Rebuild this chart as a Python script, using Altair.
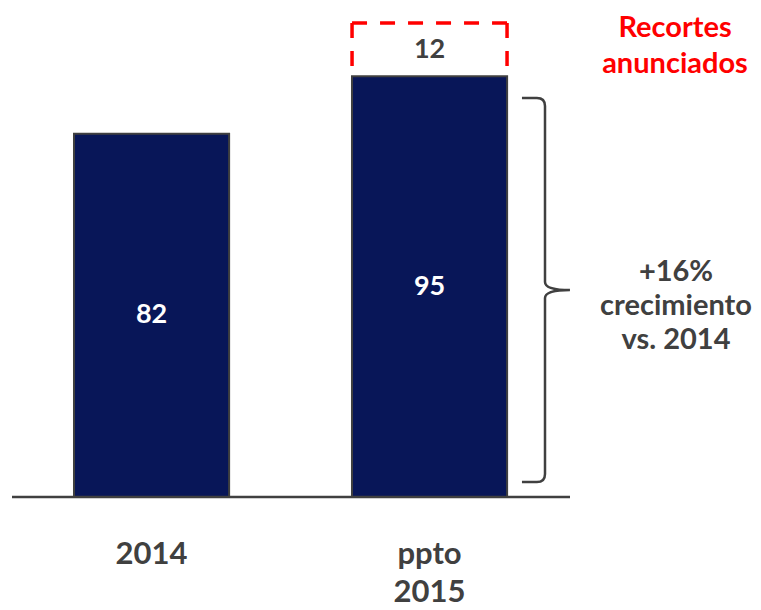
import altair as alt
import pandas as pd

# ---- data ----
categories = ["2014", "ppto\n2015"]
values = [82, 95]
cut_values = [0, 12]
cut_label = "Recortes\nanunciados"
growth_label = "+16%\ncrecimiento\nvs. 2014"

df = pd.DataFrame({"cat": categories, "value": values, "cut": cut_values})
df["mid"] = df["value"] / 2
df["cut_top"] = df["value"] + df["cut"]
df["cut_mid"] = df["value"] + df["cut"] / 2
cuts_df = df[df["cut"] > 0]

W, H = 745, 602
FONT = "Lato"
GREY = "#404040"
NAVY = "#081658"
RED = "#FF0000"
HALF_BAND = 77.5

x_scale = alt.Scale(domain=categories, range=[10.4, 554.7],
                    paddingInner=0.442, paddingOuter=0.2)
y_scale = alt.Scale(domain=[0, 110.38], range=[489, 0], nice=False, zero=True)

X = alt.X("cat:N", scale=x_scale, axis=None, sort=categories)

base = alt.Chart(df)
cuts = alt.Chart(cuts_df)
dash_style = dict(color=RED, strokeWidth=3.5, strokeDash=[15, 13])

# dashed open box for announced cuts
dash_top = cuts.mark_rule(xOffset=-HALF_BAND, x2Offset=HALF_BAND, **dash_style).encode(
    x=X, x2="cat:N",
    y=alt.Y("cut_top:Q", scale=y_scale, axis=None),
)
dash_left = cuts.mark_rule(xOffset=-HALF_BAND, **dash_style).encode(
    x=X,
    y=alt.Y("cut_top:Q", scale=y_scale, axis=None),
    y2="value:Q",
)
dash_right = cuts.mark_rule(xOffset=HALF_BAND, **dash_style).encode(
    x=X,
    y=alt.Y("cut_top:Q", scale=y_scale, axis=None),
    y2="value:Q",
)

bars = base.mark_bar(fill=NAVY, stroke=GREY, strokeWidth=2).encode(
    x=X,
    y=alt.Y("value:Q", scale=y_scale, axis=None),
    y2=alt.datum(0),
)

baseline = alt.Chart(pd.DataFrame({"v": [0]})).mark_rule(
    color=GREY, strokeWidth=2.5
).encode(
    x=alt.value(4), x2=alt.value(562),
    y=alt.Y("v:Q", scale=y_scale, axis=None),
)

inner_labels = base.mark_text(
    font=FONT, fontWeight="bold", fontSize=27, color="white", baseline="middle"
).encode(
    x=X,
    y=alt.Y("mid:Q", scale=y_scale, axis=None),
    text="value:Q",
)

cut_text = cuts.mark_text(
    font=FONT, fontWeight="bold", fontSize=27, color=GREY, baseline="middle"
).encode(
    x=X,
    y=alt.Y("cut_mid:Q", scale=y_scale, axis=None),
    text="cut:Q",
)

cat_labels = base.mark_text(
    font=FONT, fontWeight="bold", fontSize=31, color=GREY,
    baseline="alphabetic", lineBreak="\n", lineHeight=38
).encode(
    x=X,
    y=alt.value(556),
    text="cat:N",
)

cut_note = alt.Chart(pd.DataFrame({"t": [cut_label]})).mark_text(
    font=FONT, fontWeight="bold", fontSize=29, color=RED,
    baseline="alphabetic", lineBreak="\n", lineHeight=36
).encode(
    x=alt.value(667), y=alt.value(29), text="t:N"
)

growth_note = alt.Chart(pd.DataFrame({"t": [growth_label]})).mark_text(
    font=FONT, fontWeight="bold", fontSize=29, color=GREY,
    baseline="alphabetic", lineBreak="\n", lineHeight=34
).encode(
    x=alt.value(668), y=alt.value(273), text="t:N"
)

brace_path = ("M -0.12 -1 L -0.042 -1 Q 0 -1 0 -0.958 L 0 -0.042 "
              "Q 0 0 0.13 0 Q 0 0 0 0.042 L 0 0.958 Q 0 1 -0.042 1 L -0.12 1")
brace = alt.Chart(pd.DataFrame({"a": [0]})).mark_point(
    shape=brace_path, size=384 * 384, filled=False, stroke=GREY,
    strokeWidth=2.5, opacity=1
).encode(
    x=alt.value(537), y=alt.value(282)
)

chart = alt.layer(
    dash_top, dash_left, dash_right, bars, baseline, inner_labels, cut_text,
    cat_labels, cut_note, growth_note, brace
).properties(
    width=W, height=H, padding=0, autosize="none", background="white"
).configure_view(stroke=None)

chart.save("out.html", embed_options={"renderer": "svg", "actions": False})
